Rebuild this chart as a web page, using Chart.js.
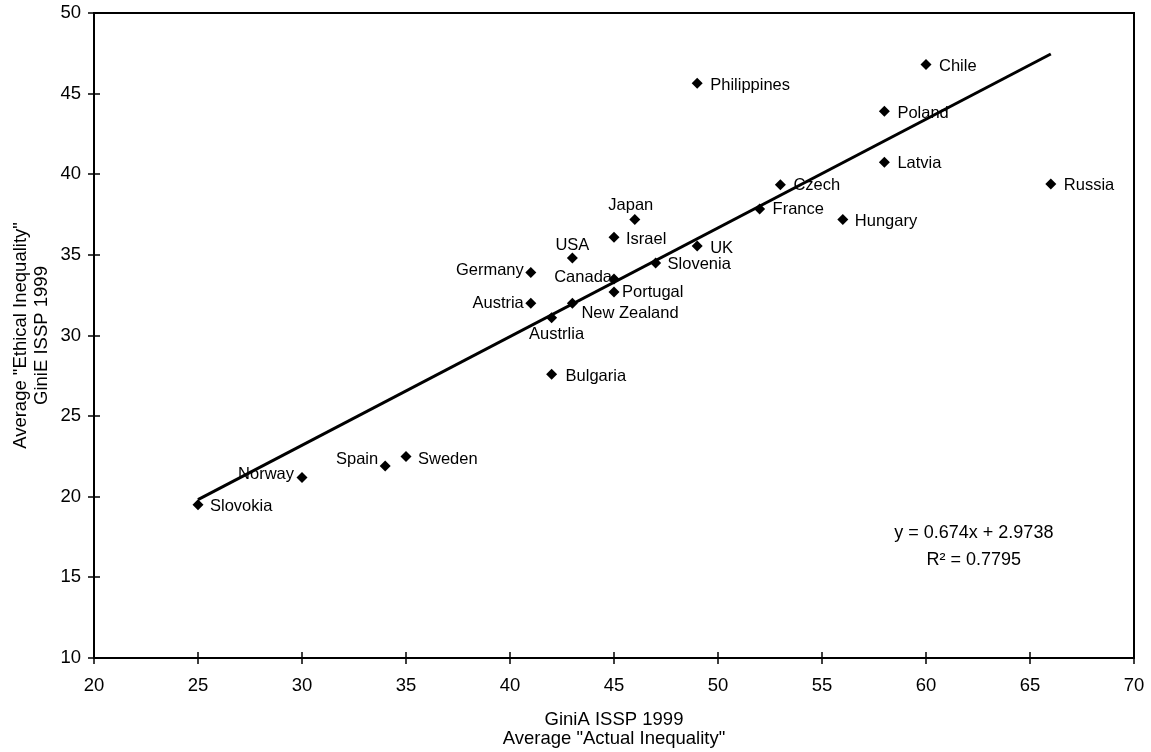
<!DOCTYPE html>
<html>
<head>
<meta charset="utf-8">
<script src="https://cdn.jsdelivr.net/npm/chart.js@4.4.0/dist/chart.umd.min.js"></script>
<style>
  html, body { margin: 0; padding: 0; background: #fff; }
</style>
</head>
<body>
<canvas id="giniChart" width="1151" height="752"></canvas>
<script>
// data
const countries = ["Slovokia", "Norway", "Spain", "Sweden", "Bulgaria", "Austrlia", "Austria",
    "New Zealand", "Germany", "USA", "Canada", "Portugal", "Slovenia", "Israel", "Japan", "UK",
    "Philippines", "France", "Czech", "Hungary", "Latvia", "Poland", "Chile", "Russia"];
const giniA = [25, 30, 34, 35, 42, 42, 41, 43, 41, 43, 45, 45, 47, 45, 46, 49, 49, 52, 53, 56, 58, 58, 60, 66];
const giniE = [19.5, 21.2, 21.9, 22.5, 27.6, 31.1, 32.0, 32.0, 33.9, 34.8, 33.5, 32.7, 34.5, 36.1, 37.2,
    35.55, 45.65, 37.85, 39.35, 37.2, 40.75, 43.9, 46.8, 39.4];
const trendX = [25, 66];
const trendY = [19.82, 47.46];
const xTicks = [20, 25, 30, 35, 40, 45, 50, 55, 60, 65, 70];
const yTicks = [10, 15, 20, 25, 30, 35, 40, 45, 50];
const equationLines = ["y = 0.674x + 2.9738", "R\u00B2 = 0.7795"];

// where each country name sits relative to its marker
const labelPlace = [
    ["left", 12, 2], ["right", -8, -3], ["right", -7, -7], ["left", 12, 3], ["left", 14, 2],
    ["center", 5, 17], ["right", -7, 0], ["left", 9, 10], ["right", -7, -2], ["center", 0, -13],
    ["right", -2, -2], ["left", 8, 0], ["left", 12, 2], ["left", 12, 2], ["center", -4, -14],
    ["left", 13, 2], ["left", 13, 2], ["left", 13, 1], ["left", 13, 1], ["left", 12, 2],
    ["left", 13, 1], ["left", 13, 2], ["left", 13, 2], ["left", 13, 2]
];

const FONT = "'Liberation Sans', Arial, sans-serif";

const framePlugin = {
    id: 'frame',
    afterDraw(chart) {
        const { ctx, chartArea: a, scales } = chart;
        ctx.save();
        ctx.strokeStyle = '#000';
        ctx.lineWidth = 2;
        ctx.strokeRect(a.left, a.top, a.right - a.left, a.bottom - a.top);
        // tick marks crossing the axis lines
        ctx.lineWidth = 1.5;
        ctx.beginPath();
        xTicks.forEach(v => {
            const px = Math.round(scales.x.getPixelForValue(v));
            ctx.moveTo(px, a.bottom - 6);
            ctx.lineTo(px, a.bottom + 6);
        });
        yTicks.forEach(v => {
            const py = Math.round(scales.y.getPixelForValue(v));
            ctx.moveTo(a.left - 6, py);
            ctx.lineTo(a.left + 6, py);
        });
        ctx.stroke();
        ctx.restore();
    }
};

const labelPlugin = {
    id: 'countryLabels',
    afterDatasetsDraw(chart) {
        const { ctx, scales } = chart;
        ctx.save();
        ctx.fillStyle = '#000';
        ctx.font = `16.5px ${FONT}`;
        ctx.textBaseline = 'middle';
        countries.forEach((name, i) => {
            const px = scales.x.getPixelForValue(giniA[i]);
            const py = scales.y.getPixelForValue(giniE[i]);
            const [align, dx, dy] = labelPlace[i];
            ctx.textAlign = align;
            ctx.fillText(name, px + dx, py + dy);
        });
        // regression equation
        ctx.font = `18px ${FONT}`;
        ctx.textAlign = 'center';
        const ex = scales.x.getPixelForValue(62.3);
        const ey = scales.y.getPixelForValue(17.75);
        equationLines.forEach((line, i) => ctx.fillText(line, ex, ey + i * 27));
        ctx.restore();
    }
};

new Chart(document.getElementById('giniChart'), {
    type: 'scatter',
    data: {
        datasets: [{
            label: 'Countries',
            data: giniA.map((x, i) => ({ x: x, y: giniE[i] })),
            pointStyle: 'rectRot',
            pointRadius: 5.5,
            pointHoverRadius: 5.5,
            backgroundColor: '#000',
            borderWidth: 0
        }, {
            type: 'line',
            label: 'Trend',
            data: trendX.map((x, i) => ({ x: x, y: trendY[i] })),
            borderColor: '#000',
            borderWidth: 3,
            pointRadius: 0,
            fill: false
        }]
    },
    options: {
        responsive: false,
        animation: false,
        devicePixelRatio: 1,
        layout: { padding: { top: 13, right: 17, left: 0, bottom: 0 } },
        plugins: { legend: { display: false }, tooltip: { enabled: false } },
        scales: {
            x: {
                type: 'linear', min: 20, max: 70,
                afterBuildTicks: s => { s.ticks = xTicks.map(v => ({ value: v })); },
                afterFit: s => { s.height = 94; s.paddingLeft = 0; s.paddingRight = 0; },
                grid: { display: false, drawTicks: false },
                border: { display: false },
                ticks: { color: '#000', padding: 17, font: { family: FONT, size: 18.5 } },
                title: {
                    display: true, color: '#000',
                    text: ['GiniA ISSP 1999', 'Average "Actual Inequality"'],
                    font: { family: FONT, size: 18.5, lineHeight: 1.03 },
                    padding: { top: 0, bottom: 4 }
                }
            },
            y: {
                type: 'linear', min: 10, max: 50,
                afterBuildTicks: s => { s.ticks = yTicks.map(v => ({ value: v })); },
                afterFit: s => { s.width = 94; s.paddingTop = 0; s.paddingBottom = 0; },
                grid: { display: false, drawTicks: false },
                border: { display: false },
                ticks: { color: '#000', padding: 13, font: { family: FONT, size: 18.5 } },
                title: {
                    display: true, color: '#000',
                    text: ['Average "Ethical Inequality"', 'GiniE ISSP 1999'],
                    font: { family: FONT, size: 18.5, lineHeight: 1.12 },
                    padding: { top: 11, bottom: 0 }
                }
            }
        }
    },
    plugins: [framePlugin, labelPlugin]
});
</script>
</body>
</html>
